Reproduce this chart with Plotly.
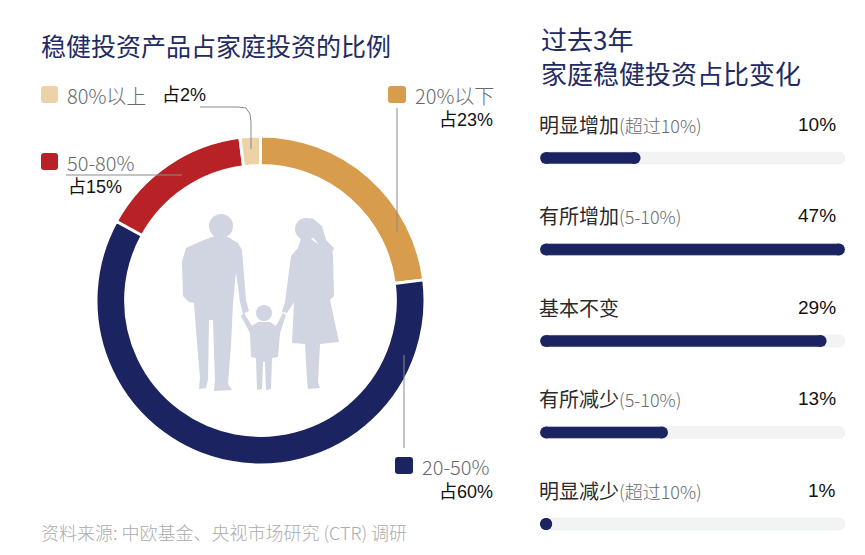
import plotly.graph_objects as go

W, H = 865, 555

# left: share of stable investment products in household investment
share_labels = ["20%以下", "20-50%", "50-80%", "80%以上"]
share_values = [23, 60, 15, 2]
share_colors = ["#d89c4d", "#1b2461", "#b82226", "#ecd2a6"]

# right: change over the past 3 years
change_labels = ["明显增加", "有所增加", "基本不变", "有所减少", "明显减少"]
change_notes = ["(超过10%)", "(5-10%)", "", "(5-10%)", "(超过10%)"]
change_values = [10, 47, 29, 13, 1]
# bar length as drawn in the source, in % of the track (not scaled to the values)
bar_fill = [33, 100, 94, 42, 4]

NAVY = "#1b2461"
TITLE = "#222a62"
CJK = "Noto Sans CJK SC"
NUM = "Liberation Sans, Noto Sans CJK SC"
CAP = 2  # half the bar thickness, in track units (rounded ends)


def px(x):
    return x / W


def py(y):
    return 1 - y / H


def path(points, close=True):
    d = "M " + " L ".join(f"{px(x):.5f},{py(y):.5f}" for x, y in points)
    return d + (" Z" if close else "")


def rounded_square(x0, y0, x1, y1, r=3):
    return (f"M {px(x0 + r)},{py(y0)} L {px(x1 - r)},{py(y0)} "
            f"Q {px(x1)},{py(y0)} {px(x1)},{py(y0 + r)} L {px(x1)},{py(y1 - r)} "
            f"Q {px(x1)},{py(y1)} {px(x1 - r)},{py(y1)} L {px(x0 + r)},{py(y1)} "
            f"Q {px(x0)},{py(y1)} {px(x0)},{py(y1 - r)} L {px(x0)},{py(y0 + r)} "
            f"Q {px(x0)},{py(y0)} {px(x0 + r)},{py(y0)} Z")


fig = go.Figure()

fig.add_trace(go.Pie(
    labels=share_labels,
    values=share_values,
    marker=dict(colors=share_colors, line=dict(color="white", width=3)),
    hole=0.82,
    sort=False,
    direction="clockwise",
    rotation=0,
    textinfo="none",
    showlegend=False,
    domain=dict(x=[px(96), px(425)], y=[py(465), py(136)]),
))

rows = list(range(len(change_labels)))
fig.add_trace(go.Bar(
    y=rows, x=[100 - CAP] * len(rows), base=CAP, orientation="h", width=0.13,
    marker=dict(color="#f2f4f4", cornerradius=6),
    hoverinfo="skip", showlegend=False,
))
fig.add_trace(go.Bar(
    y=rows, x=[max(v - 2 * CAP, 0) for v in bar_fill], base=CAP, orientation="h",
    width=0.13, marker=dict(color=NAVY),
    customdata=change_values, hovertemplate="%{customdata}%<extra></extra>",
    showlegend=False,
))
# round ends of the filled bars
fig.add_trace(go.Scatter(
    y=rows + rows, x=[CAP] * len(rows) + [max(v - CAP, CAP) for v in bar_fill],
    mode="markers", marker=dict(color=NAVY, size=12, line=dict(width=0)),
    hoverinfo="skip", showlegend=False, cliponaxis=False,
))

shapes = []
annotations = []

# family silhouette inside the ring
SIL = "#d1d4e1"
man = [(212, 237), (228, 237), (238, 243), (242, 250), (246, 300), (249, 311),
       (243, 314), (240, 302), (236, 272), (233, 303), (231, 345), (228, 384),
       (232, 390), (214, 391), (215, 380), (213, 320), (209, 320), (208, 380),
       (206, 388), (199, 389), (200, 378), (196, 330), (194, 303), (189, 302),
       (183, 296), (182, 262), (186, 248), (199, 242)]
woman = [(301, 238), (311, 239), (318, 244), (327, 246), (333, 254), (334, 296),
         (330, 300), (339, 342), (320, 344), (318, 382), (320, 388), (308, 389),
         (307, 380), (305, 344), (292, 343), (294, 302), (287, 313), (282, 312),
         (285, 302), (291, 256), (298, 248)]
child = [(258, 322), (270, 322), (276, 326), (283, 313), (286, 315), (280, 333),
         (278, 357), (272, 358), (271, 389), (266, 390), (265, 362), (263, 362),
         (262, 389), (257, 390), (256, 358), (251, 357), (250, 333), (241, 316),
         (244, 313), (252, 326)]
for body in (man, woman, child):
    shapes.append(dict(type="path", xref="paper", yref="paper", path=path(body),
                       fillcolor=SIL, line=dict(width=0), layer="above"))
for cx, cy, r in [(221, 226, 12), (306, 229, 11), (264, 313, 8)]:
    shapes.append(dict(type="circle", xref="paper", yref="paper",
                       x0=px(cx - r), x1=px(cx + r), y0=py(cy + r), y1=py(cy - r),
                       fillcolor=SIL, line=dict(width=0), layer="above"))
# neck of the man, hair of the woman
shapes.append(dict(type="path", xref="paper", yref="paper",
                   path=path([(214, 234), (226, 234), (227, 241), (213, 241)]),
                   fillcolor=SIL, line=dict(width=0), layer="above"))
shapes.append(dict(type="path", xref="paper", yref="paper",
                   path=path([(300, 222), (312, 218), (322, 226), (326, 240),
                              (334, 248), (331, 256), (320, 246), (312, 236)]),
                   fillcolor=SIL, line=dict(width=0), layer="above"))

# pie labels: (label square box, label pos, value pos, value anchor, leader line)
pie_marks = {
    "80%以上": ((41, 86, 58, 103), (65, 95), (160, 95), "left",
              [(200, 107), (238, 107), (246, 108), (250, 114), (251, 122), (251, 149)]),
    "20%以下": ((388, 86, 406, 103), (413, 95), (495, 120), "right",
              [(397, 108), (397, 232)]),
    "50-80%": ((41, 153, 58, 170), (65, 162), (66, 187), "left",
               [(66, 175), (182, 175)]),
    "20-50%": ((395, 457, 413, 474), (420, 466), (495, 492), "right",
               [(404, 355), (404, 448)]),
}
for lab, val, col in zip(share_labels, share_values, share_colors):
    box, tpos, vpos, anchor, line = pie_marks[lab]
    shapes.append(dict(type="path", xref="paper", yref="paper",
                       path=rounded_square(*box), fillcolor=col, line=dict(width=0)))
    shapes.append(dict(type="path", xref="paper", yref="paper",
                       path=path(line, close=False),
                       line=dict(color="#8a8a8a", width=1)))
    annotations.append(dict(x=px(tpos[0]), y=py(tpos[1]), xref="paper", yref="paper",
                            text=lab, showarrow=False, xanchor="left", yanchor="middle",
                            font=dict(family=CJK, size=20, color="#6a6a6a", weight=300)))
    annotations.append(dict(x=px(vpos[0]), y=py(vpos[1]), xref="paper", yref="paper",
                            text=f"占{val}%", showarrow=False, xanchor=anchor,
                            yanchor="middle",
                            font=dict(family=NUM, size=18, color="#111111")))

# titles and source
annotations += [
    dict(x=px(39), y=py(45), xref="paper", yref="paper", text="稳健投资产品占家庭投资的比例",
         showarrow=False, xanchor="left", yanchor="middle",
         font=dict(family=CJK, size=25, color=TITLE)),
    dict(x=px(539), y=py(39), xref="paper", yref="paper", text="过去3年",
         showarrow=False, xanchor="left", yanchor="middle",
         font=dict(family=CJK, size=26, color=TITLE)),
    dict(x=px(539), y=py(72), xref="paper", yref="paper", text="家庭稳健投资占比变化",
         showarrow=False, xanchor="left", yanchor="middle",
         font=dict(family=CJK, size=26, color=TITLE)),
    dict(x=px(39), y=py(532), xref="paper", yref="paper",
         text="资料来源: 中欧基金、央视市场研究 (CTR) 调研",
         showarrow=False, xanchor="left", yanchor="middle",
         font=dict(family=CJK, size=18, color="#acacac", weight=300)),
]

# bar row labels, tied to the bar axes
for i, (lab, note, val) in enumerate(zip(change_labels, change_notes, change_values)):
    txt = lab
    if note:
        txt += f"<span style='font-size:18px;color:#6a6a6a;font-weight:300'>{note}</span>"
    annotations.append(dict(x=0, y=i - 0.37, xref="x", yref="y", text=txt,
                            showarrow=False, xanchor="left", yanchor="middle", xshift=-3,
                            font=dict(family=CJK, size=20, color="#2a2a2a")))
    annotations.append(dict(x=97.8, y=i - 0.37, xref="x", yref="y", text=f"{val}%",
                            showarrow=False, xanchor="right", yanchor="middle",
                            font=dict(family=NUM, size=19, color="#111111")))

fig.update_layout(
    width=W, height=H,
    margin=dict(l=0, r=0, t=0, b=0),
    paper_bgcolor="white", plot_bgcolor="white",
    barmode="overlay",
    xaxis=dict(domain=[px(540), px(845)], range=[0, 100], visible=False, fixedrange=True),
    yaxis=dict(domain=[py(542.3), py(103.1)], range=[4.2, -0.6], visible=False,
               fixedrange=True),
    shapes=shapes,
    annotations=annotations,
)

fig.write_html("out.html", config={"displayModeBar": False},
               post_script="document.body.style.margin='0';")
